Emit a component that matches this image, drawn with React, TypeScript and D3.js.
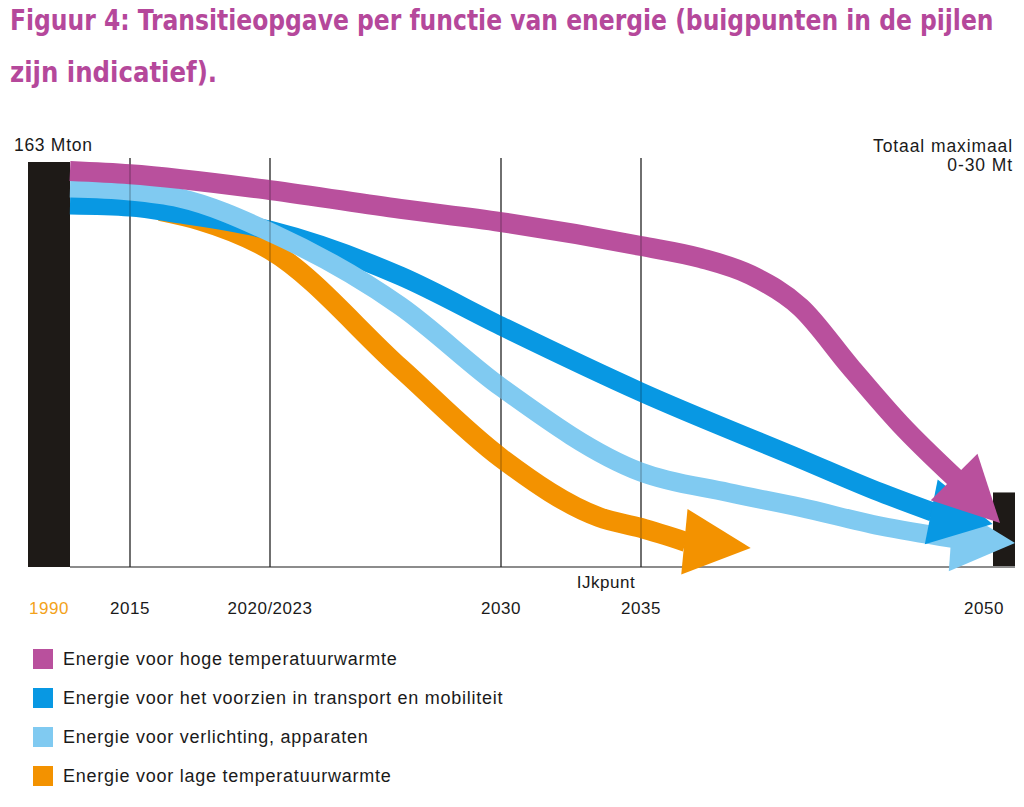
import React, { useLayoutEffect, useRef, useState } from 'react';
import * as d3 from 'd3';

// ---- Data ----
const titleLines = [
  'Figuur 4: Transitieopgave per functie van energie (buigpunten in de pijlen',
  'zijn indicatief).',
];
const titleWidths = [983, 207];
const startValue = 163; // Mton in 1990
const endMaxValue = 30; // "Totaal maximaal 0-30 Mt"
const tickYears = [1990, 2015, 2021.5, 2030, 2035, 2050];
const tickLabels = ['1990', '2015', '2020/2023', '2030', '2035', '2050'];
const gridYears = [2015, 2021.5, 2030, 2035];

const seriesNames = [
  'Energie voor hoge temperatuurwarmte',
  'Energie voor het voorzien in transport en mobiliteit',
  'Energie voor verlichting, apparaten',
  'Energie voor lage temperatuurwarmte',
];
const seriesColors = ['#b9509d', '#0898e3', '#80caf1', '#f39200'];

// path points (year, Mton); the last point is the arrow tip
const hogeYears = [1990, 2015, 2021.5, 2026.3, 2030, 2035, 2037.4, 2039.4, 2041.4, 2043.4, 2045.4, 2047.6, 2049.4];
const hogeValues = [159.4, 158.1, 151.7, 144.1, 138.8, 129.2, 124.3, 117.5, 104.5, 80.5, 57.5, 35.8, 17.7];

const transportYears = [1990, 2015, 2017.3, 2021.5, 2026.3, 2030, 2035, 2041.4, 2044.6, 2046.7, 2049.1];
const transportValues = [145.7, 144.9, 142.1, 135.5, 117.1, 97.0, 70.4, 43.5, 30.0, 22.1, 17.3];

const verlichtingYears = [1990, 2015, 2017.3, 2021.5, 2026.3, 2030, 2035, 2038.5, 2041.4, 2044.6, 2047.5, 2050];
const verlichtingValues = [152.5, 151.3, 148.5, 134.8, 105.0, 72.4, 38.2, 30.0, 24.0, 16.5, 11.5, 9.7];

const lageYears = [2016.4, 2018.2, 2021.5, 2026.3, 2030, 2033.5, 2035, 2036.8, 2039.4];
const lageValues = [143.3, 139.6, 127.6, 80.1, 43.9, 20.1, 15.7, 10.1, 7.6];

const W = 1024;
const H = 807;

export default function App() {
  const titleRefs = useRef<(SVGTextElement | null)[]>([]);
  const [titleScales, setTitleScales] = useState<number[]>([0.78, 0.78]);

  useLayoutEffect(() => {
    const s = titleRefs.current.map((el, i) => {
      if (!el) return 1;
      const len = el.getComputedTextLength();
      return len > 0 ? titleWidths[i] / len : 1;
    });
    setTitleScales(s);
  }, []);

  const x = d3
    .scaleLinear()
    .domain([1990, 2015, 2021.5, 2030, 2035, 2050])
    .range([70, 130, 270, 501, 641, 1015]);
  const y = d3.scaleLinear().domain([0, startValue]).range([567, 162]);

  const line = d3
    .line<[number, number]>()
    .x((d) => d[0])
    .y((d) => d[1])
    .curve(d3.curveMonotoneX);

  const makeArrow = (years: number[], values: number[], color: string, key: string, strokeW = 19, headW = 66) => {
    const pts: [number, number][] = years.map((yr, i) => [x(yr), y(values[i])]);
    const tip = pts[pts.length - 1];
    const shaft = pts.slice(0, pts.length - 1);
    const base = shaft[shaft.length - 1];
    const dx = tip[0] - base[0];
    const dy = tip[1] - base[1];
    const len = Math.hypot(dx, dy);
    const ux = dx / len;
    const uy = dy / len;
    const nx = -uy;
    const ny = ux;
    const b0: [number, number] = [base[0] - ux * 1.5, base[1] - uy * 1.5];
    const head = [
      [b0[0] + (nx * headW) / 2, b0[1] + (ny * headW) / 2],
      tip,
      [b0[0] - (nx * headW) / 2, b0[1] - (ny * headW) / 2],
    ];
    return {
      shaft: <path key={key + 's'} d={line(shaft) || ''} fill="none" stroke={color} strokeWidth={strokeW} strokeLinecap="butt" strokeLinejoin="round" />,
      head: <polygon key={key + 'h'} points={head.map((p) => p.join(',')).join(' ')} fill={color} />,
    };
  };

  const hoge = makeArrow(hogeYears, hogeValues, seriesColors[0], 'hoge', 20);
  const transport = makeArrow(transportYears, transportValues, seriesColors[1], 'tr', 19);
  const verl = makeArrow(verlichtingYears, verlichtingValues, seriesColors[2], 'vl', 19);
  const lage = makeArrow(lageYears, lageValues, seriesColors[3], 'lage', 20);

  const textFont = "'Liberation Sans', Arial, Helvetica, sans-serif";
  const titleFont = "'DejaVu Sans Condensed', 'Liberation Sans Narrow', Arial, sans-serif";
  const gridTop = y(startValue) - 4;
  const titleX = 10;
  const titleYs = [30, 82];

  return (
    <svg width={W} height={H} style={{ position: 'absolute', left: 0, top: 0, background: '#fff' }}>
      <rect width={W} height={H} fill="#fff" />
      {/* Title */}
      {titleLines.map((t, i) => (
        <g key={'title' + i} transform={`translate(${titleX},${titleYs[i]}) scale(${titleScales[i]},1)`}>
          <text
            ref={(el) => {
              titleRefs.current[i] = el;
            }}
            x={0}
            y={0}
            fill="#b5489b"
            fontFamily={titleFont}
            fontWeight="bold"
            fontSize={28}
          >
            {t}
          </text>
        </g>
      ))}

      {/* top labels */}
      <text x={14} y={151} fontFamily={textFont} fontSize={17.5} letterSpacing={0.7} fill="#1a1a1a">
        {startValue} Mton
      </text>
      <text x={1013} y={152} textAnchor="end" fontFamily={textFont} fontSize={17.5} letterSpacing={0.9} fill="#1a1a1a">
        Totaal maximaal
      </text>
      <text x={1013} y={171} textAnchor="end" fontFamily={textFont} fontSize={17.5} letterSpacing={0.9} fill="#1a1a1a">
        0-{endMaxValue} Mt
      </text>

      {/* bars */}
      <rect x={x(1990) - 42} y={y(startValue)} width={42} height={y(0) - y(startValue)} fill="#1e1a17" />
      <rect x={x(2050) - 22} y={y(endMaxValue)} width={22} height={y(0) - y(endMaxValue)} fill="#1e1a17" />
      <line x1={x(1990)} x2={x(2050)} y1={y(0)} y2={y(0)} stroke="#8c8c8c" strokeWidth={2} />
      {gridYears.map((g) => (
        <line key={'g' + g} x1={x(g)} x2={x(g)} y1={gridTop} y2={y(0)} stroke="#3a3a3a" strokeWidth={1.2} />
      ))}

      {/* arrows */}
      {lage.shaft}
      {lage.head}
      {transport.shaft}
      {verl.shaft}
      {verl.head}
      {transport.head}
      {hoge.shaft}
      {hoge.head}

      {gridYears.map((g) => (
        <line key={'go' + g} x1={x(g)} x2={x(g)} y1={gridTop} y2={y(0)} stroke="#000" strokeOpacity={0.3} strokeWidth={1.2} />
      ))}

      {/* x labels */}
      <text x={606} y={588} textAnchor="middle" fontFamily={textFont} fontSize={17} letterSpacing={0.5} fill="#1a1a1a">
        IJkpunt
      </text>
      {tickYears.map((t, i) => {
        const cx = i === 0 ? x(t) - 21 : i === tickYears.length - 1 ? x(t) - 31 : x(t);
        return (
          <text key={'t' + i} x={cx} y={614} textAnchor="middle" fontFamily={textFont} fontSize={17} letterSpacing={0.5} fill={i === 0 ? '#f3a21a' : '#1a1a1a'}>
            {tickLabels[i]}
          </text>
        );
      })}

      {/* legend */}
      {seriesNames.map((n, i) => {
        const cy = 659 + i * 39;
        return (
          <g key={'l' + i}>
            <rect x={33} y={cy - 10} width={20} height={20} fill={seriesColors[i]} />
            <text x={63} y={cy + 6} fontFamily={textFont} fontSize={18} letterSpacing={0.75} fill="#1a1a1a">
              {n}
            </text>
          </g>
        );
      })}
    </svg>
  );
}
